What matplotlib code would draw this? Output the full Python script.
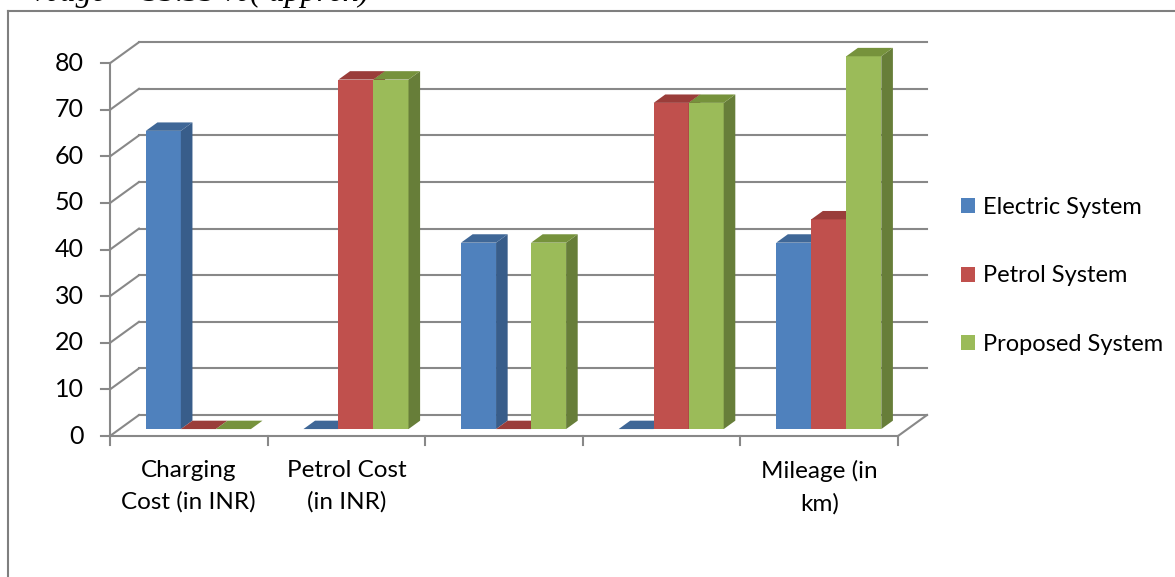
import matplotlib.pyplot as plt
from matplotlib.patches import Polygon, Patch

categories = ["Charging\nCost (in INR)", "Petrol Cost\n(in INR)", "", "", "Mileage (in\nkm)"]
series_names = ["Electric System", "Petrol System", "Proposed System"]
electric = [64, 0, 40, 0, 40]
petrol = [0, 75, 0, 70, 45]
proposed = [0, 75, 40, 70, 80]
y_ticks = [0, 10, 20, 30, 40, 50, 60, 70, 80]

# (front, side, top) shades per series, Excel 2007 style
shades = [("#4F81BD", "#385D8A", "#3F6797"),
          ("#C0504D", "#8C3A38", "#9A3D3A"),
          ("#9BBB59", "#677E39", "#76923C")]

plt.rcParams['font.family'] = ['Lato', 'DejaVu Sans']

W, H = 1175, 577
fig = plt.figure(figsize=(W / 100, H / 100), dpi=100)
ax = fig.add_axes([0, 0, 1, 1])
ax.axis('off')

# pixel scale of the front plane
PX, PY = 157.6, 4.66
X0, Y0 = 110, 436
ax.set_xlim(-X0 / PX, (W - X0) / PX)
ax.set_ylim(-(H - Y0) / PY, Y0 / PY)

# oblique depth offset (back wall) in data units
DX, DY = 29 / PX, 21 / PY

def proj(x, y, d):
    return (x + d * DX, y + d * DY)

grid = "#888888"
lw = 1.5
n = len(categories)
ymax = y_ticks[-1]

# walls and floor
ax.plot([0, 0], [0, ymax], color=grid, lw=lw, zorder=1)
for v in y_ticks:
    bx, by = proj(0, v, 1)
    ax.plot([0, bx], [v, by], color=grid, lw=lw, zorder=1)
    ax.plot([bx, n + DX], [by, by], color=grid, lw=lw, zorder=1)
    ax.plot([0, -9 / PX], [v, v], color=grid, lw=lw, zorder=1)
    ax.text(-26 / PX, v, str(v), ha='right', va='center', fontsize=18)
ax.plot([0, n], [0, 0], color=grid, lw=lw, zorder=1)
ax.plot([n, n + DX], [0, DY], color=grid, lw=lw, zorder=1)
for c in range(n + 1):
    ax.plot([c, c], [0, -9 / PY], color=grid, lw=lw, zorder=1)

for c, lab in enumerate(categories):
    ax.text(c + 0.5, -24 / PY, lab, ha='center', va='top', fontsize=17.5,
            linespacing=1.6)

# 3D-looking columns
bw = 1 / 4.5
d0, d1 = 0.33, 0.73
z = 2
for c in range(n):
    for i, vals in enumerate([electric, petrol, proposed]):
        v = vals[c]
        front, side, top = shades[i]
        xl = c + 0.75 * bw + i * bw
        xr = xl + bw
        if v > 0:
            ax.add_patch(Polygon([proj(xl, 0, d0), proj(xr, 0, d0),
                                  proj(xr, v, d0), proj(xl, v, d0)],
                                 closed=True, fc=front, ec='none', zorder=z))
            ax.add_patch(Polygon([proj(xr, 0, d0), proj(xr, 0, d1),
                                  proj(xr, v, d1), proj(xr, v, d0)],
                                 closed=True, fc=side, ec='none', zorder=z))
        ax.add_patch(Polygon([proj(xl, v, d0), proj(xr, v, d0),
                              proj(xr, v, d1), proj(xl, v, d1)],
                             closed=True, fc=top, ec='none', zorder=z))
        z += 1

handles = [Patch(fc=s[0], ec='none') for s in shades]
ax.legend(handles, series_names, loc='center left',
          bbox_to_anchor=(961 / W, 1 - 276 / H), bbox_transform=fig.transFigure,
          frameon=False, fontsize=17, handlelength=0.6, handleheight=0.6,
          handletextpad=0.35, labelspacing=2.0, borderpad=0, borderaxespad=0)

# outer frame (only left and top edges are inside the crop)
fig.add_artist(plt.Line2D([7.5 / W, 7.5 / W], [0, 1 - 10.5 / H],
                          transform=fig.transFigure, color="#7f7f7f", lw=1.5))
fig.add_artist(plt.Line2D([7.5 / W, 1], [1 - 10.5 / H, 1 - 10.5 / H],
                          transform=fig.transFigure, color="#7f7f7f", lw=1.5))
fig.text(33 / W, 1 - 1.5 / H, "%age = 33.33 %( approx)", ha='left', va='baseline',
         fontsize=23, family='Liberation Serif', style='italic')

fig.savefig("out.png", dpi=100)
